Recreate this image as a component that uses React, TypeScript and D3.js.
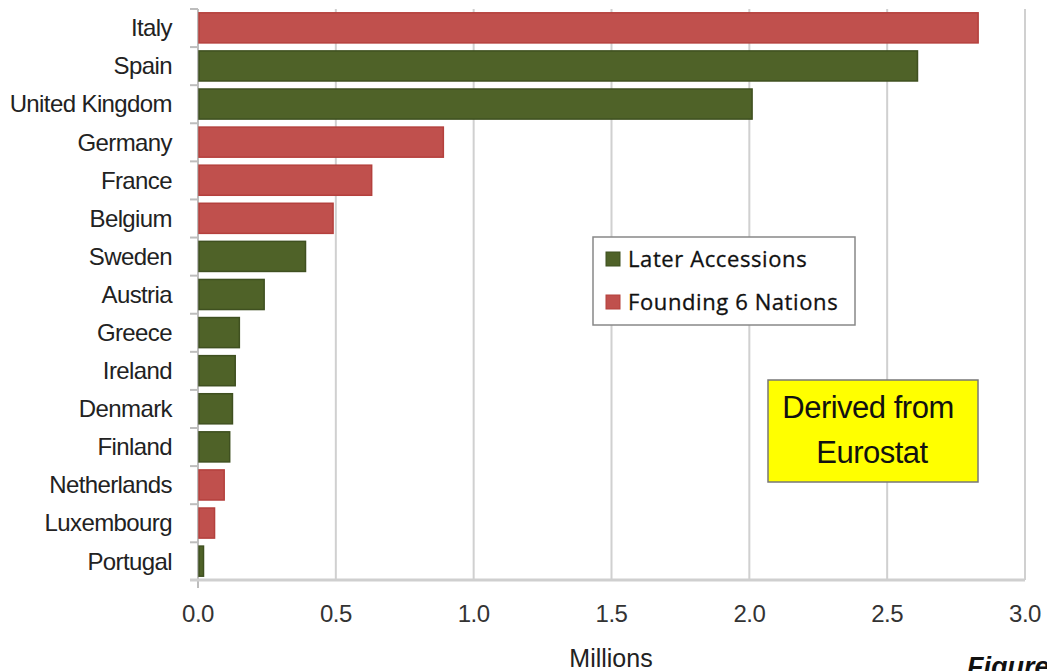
import React from "react";
import * as d3 from "d3";

const countries = ["Italy","Spain","United Kingdom","Germany","France","Belgium","Sweden","Austria","Greece","Ireland","Denmark","Finland","Netherlands","Luxembourg","Portugal"];
const values = [2.83,2.61,2.01,0.89,0.63,0.49,0.39,0.24,0.15,0.135,0.125,0.115,0.095,0.06,0.02];
const groups = ["F","L","L","F","F","F","L","L","L","L","L","L","F","F","L"];
const xTicks = [0,0.5,1.0,1.5,2.0,2.5,3.0];
const legendItems = [{ key: "L", label: "Later Accessions" }, { key: "F", label: "Founding 6 Nations" }];

const fill: Record<string, string> = { F: "#C0504D", L: "#4F6228" };
const stroke: Record<string, string> = { F: "#B4403D", L: "#3F5020" };

export default function App() {
  const W = 1047, H = 671;
  const left = 198, right = 1025, top = 9, bottom = 580;
  const x = d3.scaleLinear().domain([0, 3]).range([left, right]);
  const y = d3.scaleBand<string>().domain(countries).range([top, bottom]).paddingInner(0.21).paddingOuter(0.1);
  const step = y.step();
  const font = "'Liberation Sans', Arial, sans-serif";
  return (
    <svg width={W} height={H} style={{ position: "absolute", left: 0, top: 0, background: "#fff" }}>
      {xTicks.map((t) => (
        <line key={"g" + t} x1={x(t)} x2={x(t)} y1={top} y2={bottom} stroke="#d0d0d0" strokeWidth={2} />
      ))}
      {countries.map((c, i) => (
        <line key={"yt" + i} x1={left - 8} x2={left} y1={top + i * step} y2={top + i * step} stroke="#bdbdbd" strokeWidth={2} />
      ))}
      <line x1={left - 8} x2={left} y1={bottom} y2={bottom} stroke="#bdbdbd" strokeWidth={2} />
      <line x1={left} x2={left} y1={top} y2={bottom + 8} stroke="#bdbdbd" strokeWidth={2} />
      <line x1={left - 8} x2={right} y1={bottom} y2={bottom} stroke="#cfcfcf" strokeWidth={3} />
      {countries.map((c, i) => (
        <rect key={c} x={x(0) + 1} y={y(c)} width={x(values[i]) - x(0) - 1} height={y.bandwidth()}
          fill={fill[groups[i]]} stroke={stroke[groups[i]]} strokeWidth={1.5} />
      ))}
      {countries.map((c) => (
        <text key={"l" + c} x={172} y={(y(c) as number) + y.bandwidth() / 2} dy="0.35em" textAnchor="end"
          fontFamily={font} fontSize={24} fill="#222" style={{ letterSpacing: "-0.6px" }}>{c}</text>
      ))}
      {xTicks.map((t) => (
        <text key={"xt" + t} x={x(t)} y={622} textAnchor="middle" fontFamily={font} fontSize={24} fill="#333"
          style={{ letterSpacing: "-0.5px" }}>{t.toFixed(1)}</text>
      ))}
      <text x={611} y={667} textAnchor="middle" fontFamily={font} fontSize={25} fill="#222" style={{ letterSpacing: "0px" }}>Millions</text>
      <text x={967} y={676} fontFamily={font} fontSize={27} fontWeight="bold" fontStyle="italic" fill="#111">Figure</text>

      <rect x={593} y={237} width={262} height={88} fill="#fff" stroke="#888" strokeWidth={1.5} />
      {legendItems.map((it, i) => (
        <g key={it.key}>
          <rect x={606} y={252 + i * 43} width={14} height={14} fill={fill[it.key]} stroke={stroke[it.key]} />
          <text x={628} y={267 + i * 43} fontFamily="'Open Sans', 'Noto Sans', sans-serif" fontSize={22} fill="#111"
            stroke="#111" strokeWidth={0.3} style={{ letterSpacing: "0.6px" }}>{it.label}</text>
        </g>
      ))}

      <rect x={768} y={380} width={210} height={102} fill="#FFFF00" stroke="#777" strokeWidth={1.5} />
      <text x={868} y={418} textAnchor="middle" fontFamily={font} fontSize={31} fill="#111" style={{ letterSpacing: "-0.5px" }}>Derived from</text>
      <text x={872} y={463} textAnchor="middle" fontFamily={font} fontSize={31} fill="#111" style={{ letterSpacing: "-0.5px" }}>Eurostat</text>
    </svg>
  );
}
